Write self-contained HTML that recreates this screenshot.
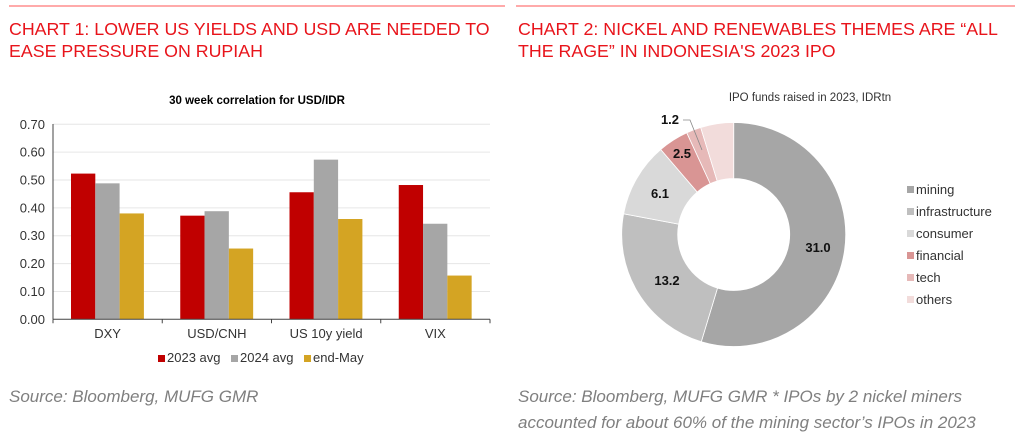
<!DOCTYPE html>
<html><head><meta charset="utf-8"><style>
body{margin:0;background:#fff;width:1022px;height:435px;overflow:hidden;font-family:"Liberation Sans",Arial,sans-serif}
svg{position:absolute;left:0;top:0}
</style></head><body>
<svg id="s" width="1022" height="435" viewBox="0 0 1022 435" font-family="Liberation Sans, Arial, sans-serif">
<line x1="9" y1="6" x2="505" y2="6" stroke="#f55" stroke-width="1"/>
<line x1="516" y1="6" x2="1015" y2="6" stroke="#f55" stroke-width="1"/>
<g fill="#e8141b" font-size="17.8">
<text x="9" y="35">CHART 1: LOWER US YIELDS AND USD ARE NEEDED TO</text>
<text x="9" y="57">EASE PRESSURE ON RUPIAH</text>
<text x="518" y="35">CHART 2: NICKEL AND RENEWABLES THEMES ARE “ALL</text>
<text x="518" y="57">THE RAGE” IN INDONESIA'S 2023 IPO</text>
</g>
<text x="257" y="104" font-size="11.5" font-weight="bold" text-anchor="middle" fill="#000">30 week correlation for USD/IDR</text>
<g id="bar"></g>
<text x="810" y="101" font-size="11.5" text-anchor="middle" fill="#333">IPO funds raised in 2023, IDRtn</text>
<g id="pie"></g>
<g font-size="17" font-style="italic" fill="#7f7f7f">
<text x="9" y="402">Source: Bloomberg, MUFG GMR</text>
<text x="518" y="402">Source: Bloomberg, MUFG GMR * IPOs by 2 nickel miners</text>
<text x="518" y="428">accounted for about 60% of the mining sector’s IPOs in 2023</text>
</g>
</svg>
<script>
var NS="http://www.w3.org/2000/svg";
function el(p,t,a,txt){var e=document.createElementNS(NS,t);for(var k in a)e.setAttribute(k,a[k]);if(txt!=null)e.textContent=txt;p.appendChild(e);return e;}
var g=document.getElementById("bar");
var L=53,R=490,Y0=319.3,U=278.6;
for(var i=0;i<=7;i++){var y=Y0-i*0.1*U;
 if(i>0)el(g,"line",{x1:L,x2:R,y1:y,y2:y,stroke:"#e6e6e6","stroke-width":1});
 el(g,"text",{x:45,y:y+4.5,"font-size":13,"text-anchor":"end",fill:"#333"},(i/10).toFixed(2));}
var data=[[0.523,0.488,0.380],[0.372,0.388,0.254],[0.456,0.573,0.360],[0.482,0.343,0.157]];
var cols=["#c00000","#a6a6a6","#d4a423"];
var cats=["DXY","USD/CNH","US 10y yield","VIX"];
var cw=(R-L)/4,bw=24.3;
for(var c=0;c<4;c++){var x0=L+c*cw+18;
 for(var s=0;s<3;s++){var h=data[c][s]*U;el(g,"rect",{x:x0+s*bw,y:Y0-h,width:bw,height:h,fill:cols[s]});}
 el(g,"text",{x:L+c*cw+cw/2,y:338,"font-size":13,"text-anchor":"middle",fill:"#333"},cats[c]);
 el(g,"line",{x1:L+c*cw,x2:L+c*cw,y1:Y0,y2:Y0+4,stroke:"#444"});}
el(g,"line",{x1:R,x2:R,y1:Y0,y2:Y0+4,stroke:"#444"});
el(g,"line",{x1:L,x2:L,y1:124,y2:Y0,stroke:"#444"});
el(g,"line",{x1:L,x2:R,y1:Y0,y2:Y0,stroke:"#444"});
var lg=[["2023 avg",158],["2024 avg",231],["end-May",304]];
for(var s=0;s<3;s++){el(g,"rect",{x:lg[s][1],y:355,width:7,height:7,fill:cols[s]});
 el(g,"text",{x:lg[s][1]+9,y:362,"font-size":13,fill:"#333"},lg[s][0]);}
var p=document.getElementById("pie");
var cx=733.7,cy=234.5,r1=112,r0=56;
var vals=[31.0,13.2,6.1,2.5,1.2,2.7],pc=["#a6a6a6","#bfbfbf","#d9d9d9","#d99594","#e6b9b8","#f2dcdb"];
var tot=vals.reduce(function(a,b){return a+b},0),a=0;
function pt(r,ang){return [cx+r*Math.sin(ang),cy-r*Math.cos(ang)];}
for(var i=0;i<6;i++){var a1=a+vals[i]/tot*2*Math.PI,lf=(a1-a)>Math.PI?1:0;
 var A=pt(r1,a),B=pt(r1,a1),C=pt(r0,a1),D=pt(r0,a);
 el(p,"path",{d:"M"+A+"A"+r1+","+r1+" 0 "+lf+" 1 "+B+"L"+C+"A"+r0+","+r0+" 0 "+lf+" 0 "+D+"Z",fill:pc[i],stroke:"#fff","stroke-width":0.8});
 a=a1;}
var lb=[["31.0",818,252],["13.2",667,285],["6.1",660,198],["2.5",682,158],["1.2",670,124]];
lb.forEach(function(l){el(p,"text",{x:l[1],y:l[2],"font-size":13,"font-weight":"bold","text-anchor":"middle",fill:"#111"},l[0]);});
el(p,"polyline",{points:"683,120 690,120 702,150",fill:"none",stroke:"#888","stroke-width":0.8});
var names=["mining","infrastructure","consumer","financial","tech","others"];
for(var i=0;i<6;i++){var y=194+i*22;el(p,"rect",{x:907,y:y-8,width:7,height:7,fill:pc[i]});
 el(p,"text",{x:916,y:y,"font-size":13,fill:"#333"},names[i]);}
</script>
</body></html>
